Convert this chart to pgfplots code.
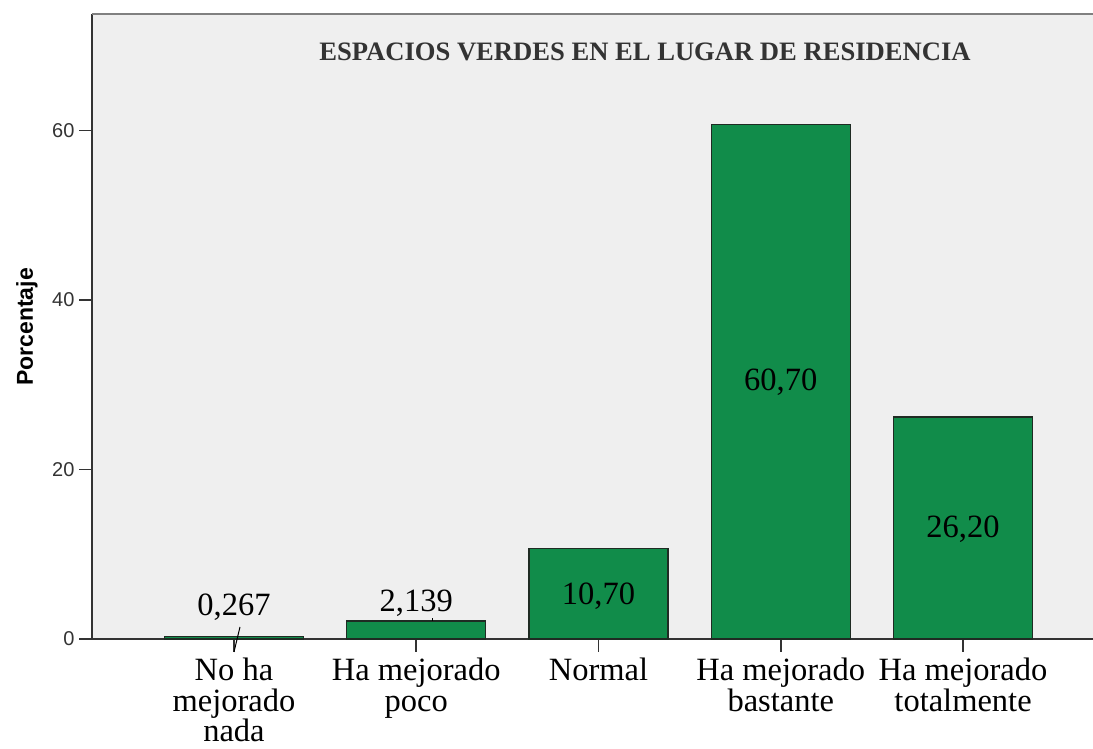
\documentclass[border=0pt]{standalone}
\usepackage{fontspec}
\setmainfont{Liberation Serif}
\setsansfont{Liberation Sans}
\usepackage{pgfplots}
\pgfplotsset{compat=1.18}
\definecolor{bgGray}{HTML}{EFEFEF}
\definecolor{barGreen}{HTML}{118C4A}
\definecolor{barEdge}{HTML}{1F2B23}
\definecolor{frameGray}{HTML}{808080}
\definecolor{txtDark}{HTML}{333333}

\begin{document}
\begin{tikzpicture}
\useasboundingbox (0pt,0pt) rectangle (1093pt,749pt);
\begin{axis}[
  at={(92pt,110pt)}, anchor=south west,
  scale only axis, width=1001pt, height=625pt,
  xmin=-0.779, xmax=4.713, ymin=0, ymax=73.73,
  axis x line*=bottom, axis y line*=left,
  axis line style={draw=txtDark, line width=1.6pt},
  axis background/.style={fill=bgGray},
  clip=false,
  tick align=outside, major tick length=13pt,
  tick style={draw=txtDark, line width=1.6pt},
  ytick={0,20,40,60},
  yticklabel style={font=\fontsize{20}{20}\sffamily\selectfont, text=txtDark, xshift=-1pt},
  /pgf/number format/assume math mode=true,
  xtick={0,1,2,3,4},
  xticklabels={No ha\\mejorado\\nada, Ha mejorado\\poco, Normal, Ha mejorado\\bastante, Ha mejorado\\totalmente},
  xticklabel style={font=\fontsize{32.5}{30.5}\selectfont, align=center, text=black, inner sep=1pt, yshift=-5pt},
  ybar, bar width=139pt,
]
\draw[frameGray, line width=2.5pt] (rel axis cs:0,1) -- (rel axis cs:1,1);
\addplot[fill=barGreen, draw=barEdge, line width=1.3pt] coordinates {
  (0,0.267) (1,2.139) (2,10.70) (3,60.70) (4,26.20)
};
\node[font=\fontsize{26.6}{27}\bfseries\selectfont, text=txtDark] at (axis cs:2.255,69.3) {ESPACIOS VERDES EN EL LUGAR DE RESIDENCIA};
\node[font=\fontsize{32.5}{32}\selectfont] at (axis cs:0,3.7) {0,267};
\node[font=\fontsize{32.5}{32}\selectfont] at (axis cs:1,4.25) {2,139};
\node[font=\fontsize{32.5}{32}\selectfont] at (axis cs:2,5.0) {10,70};
\node[font=\fontsize{32.5}{32}\selectfont] at (axis cs:3,30.35) {60,70};
\node[font=\fontsize{32.5}{32}\selectfont] at (axis cs:4,12.9) {26,20};
\draw[black, line width=1pt] (axis cs:0.033,1.42) -- (axis cs:0,-1.53);
\draw[black, line width=0.8pt] (axis cs:1.088,2.139) -- (axis cs:1.088,2.5);
\end{axis}
\node[rotate=90, font=\fontsize{23}{23}\bfseries\sffamily\selectfont] at (27pt,422pt) {Porcentaje};
\end{tikzpicture}
\end{document}
